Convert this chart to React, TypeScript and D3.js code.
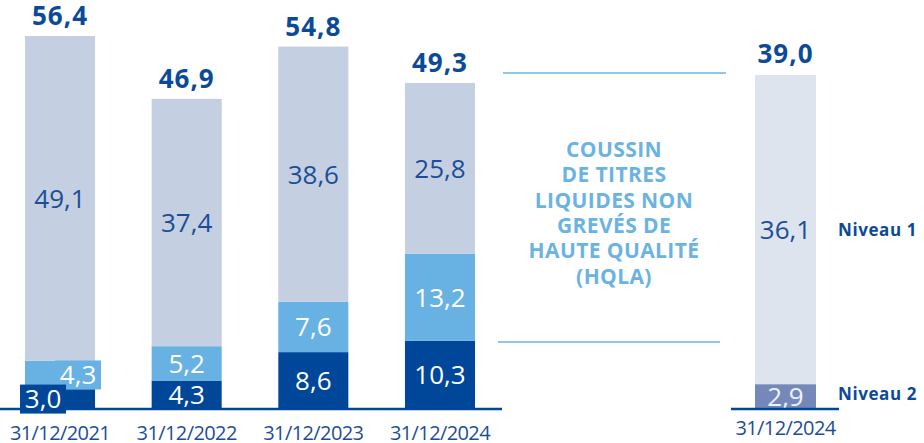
import React from 'react';
import * as d3 from 'd3';

// ---- data ----
const categories = ['31/12/2021', '31/12/2022', '31/12/2023', '31/12/2024'];
const seriesKeys = ['bottom', 'middle', 'top'];
const bottomValues = [3.0, 4.3, 8.6, 10.3];
const middleValues = [4.3, 5.2, 7.6, 13.2];
const topValues = [49.1, 37.4, 38.6, 25.8];
const totalValues = [56.4, 46.9, 54.8, 49.3];

const hqlaCategory = ['31/12/2024'];
const hqlaLevel1 = [36.1];
const hqlaLevel2 = [2.9];
const hqlaTotal = [39.0];
const hqlaLevelLabels = ['Niveau 1', 'Niveau 2'];
const hqlaTitleLines = ['COUSSIN', 'DE TITRES', 'LIQUIDES NON', 'GREVÉS DE', 'HAUTE QUALITÉ', '(HQLA)'];

// ---- styles ----
const W = 924;
const H = 443;
const FONT = '"Open Sans", "Noto Sans", sans-serif';
const C_DARK = '#00479A';
const C_MID = '#67B2E3';
const C_TOP = '#C4CFE1';
const C_R_TOP = '#DDE4EE';
const C_R_BOT = '#7489BA';
const C_TEXT = '#0B4A99';
const C_SEG_TEXT = '#1C4E98';
const C_HQLA = '#6AB3E3';

const fr = d3.formatLocale({ decimal: ',', thousands: ' ', grouping: [3], currency: ['', ' €'] });
const fmt = fr.format('.1f');

export default function App() {
  const baseY = 409;
  const x = d3.scaleBand<string>().domain(categories).range([25, 475]).paddingInner(0.447).paddingOuter(0);
  const y = d3.scaleLinear().domain([0, 56.4]).range([baseY, 36]);

  const xr = d3.scaleBand<string>().domain(hqlaCategory).range([755, 816]).padding(0);
  const yr = d3.scaleLinear().domain([0, 39.0]).range([baseY, 75]);

  const rows = categories.map((c, i) => ({
    cat: c,
    bottom: bottomValues[i],
    middle: middleValues[i],
    top: topValues[i],
  }));
  const stacked = d3.stack<any>().keys(seriesKeys)(rows);
  const fills: Record<string, string> = { bottom: C_DARK, middle: C_MID, top: C_TOP };
  const textFill: Record<string, string> = { bottom: '#FFFFFF', middle: '#FFFFFF', top: C_SEG_TEXT };

  const segFont = 26;
  const capOff = segFont * 0.357;

  // bars whose bottom segment is too thin get "badge" labels for the two lower segments
  const badgeBar = categories.map((c, i) => y(0) - y(bottomValues[i]) < 24);
  const badgeShift: Record<string, number> = { bottom: -17, middle: 18 };
  const badgeOrder = ['middle', 'bottom'];

  const rStack = d3.stack<any>().keys(['l2', 'l1'])([{ cat: hqlaCategory[0], l2: hqlaLevel2[0], l1: hqlaLevel1[0] }]);
  const rFill: Record<string, string> = { l2: C_R_BOT, l1: C_R_TOP };
  const rText: Record<string, string> = { l2: '#EEF2F8', l1: C_SEG_TEXT };
  const rLevelLabel: Record<string, string> = { l2: hqlaLevelLabels[1], l1: hqlaLevelLabels[0] };
  const rLevelDy: Record<string, number> = { l2: 3, l1: 6 };

  return (
    <svg width={W} height={H} style={{ position: 'absolute', left: 0, top: 0, background: '#fff' }} fontFamily={FONT}>
      {/* left stacked bars */}
      {stacked.map((layer) => (
        <g key={layer.key}>
          {layer.map((d: any, i: number) => (
            <rect
              key={i}
              x={x(d.data.cat)}
              y={y(d[1])}
              width={x.bandwidth()}
              height={y(d[0]) - y(d[1])}
              fill={fills[layer.key]}
            />
          ))}
        </g>
      ))}

      {/* axis baseline */}
      <line x1={0} x2={502} y1={baseY} y2={baseY} stroke={C_DARK} strokeWidth={2.4} />

      {/* segment labels (regular) */}
      {stacked.map((layer) => (
        <g key={'lab-' + layer.key}>
          {layer.map((d: any, i: number) => {
            if (badgeBar[i] && layer.key !== 'top') return null;
            const cx = (x(d.data.cat) as number) + x.bandwidth() / 2;
            const cy = (y(d[0]) + y(d[1])) / 2;
            return (
              <text key={i} x={cx} y={cy + capOff} textAnchor="middle" fontSize={segFont} fill={textFill[layer.key]}>
                {fmt(d[1] - d[0])}
              </text>
            );
          })}
        </g>
      ))}

      {/* badge labels */}
      {badgeOrder.map((key) => {
        const layer = stacked.find((l) => l.key === key)!;
        return (
          <g key={'badge-' + key}>
            {layer.map((d: any, i: number) => {
              if (!badgeBar[i]) return null;
              const cx = (x(d.data.cat) as number) + x.bandwidth() / 2 + badgeShift[key];
              const cy = (y(d[0]) + y(d[1])) / 2;
              return (
                <g key={i}>
                  <rect x={cx - 23} y={cy - 14.5} width={46} height={29} fill={fills[key]} />
                  <text x={cx} y={cy + capOff} textAnchor="middle" fontSize={segFont} fill="#fff">
                    {fmt(d[1] - d[0])}
                  </text>
                </g>
              );
            })}
          </g>
        );
      })}

      {/* totals */}
      {categories.map((c, i) => (
        <text
          key={'t' + i}
          x={(x(c) as number) + x.bandwidth() / 2}
          y={y(totalValues[i]) - 11}
          textAnchor="middle"
          fontSize={26}
          fontWeight={700}
          letterSpacing={1}
          fill={C_TEXT}
        >
          {fmt(totalValues[i])}
        </text>
      ))}

      {/* category labels */}
      {categories.map((c) => (
        <text
          key={'c' + c}
          x={(x(c) as number) + x.bandwidth() / 2}
          y={440}
          textAnchor="middle"
          fontSize={20}
          letterSpacing={-0.6}
          fill={C_SEG_TEXT}
        >
          {c}
        </text>
      ))}

      {/* HQLA divider lines */}
      <line x1={503} x2={726} y1={73} y2={73} stroke={C_HQLA} strokeWidth={1.5} />
      <line x1={498} x2={720} y1={342} y2={342} stroke={C_HQLA} strokeWidth={1.5} />

      {/* HQLA title */}
      {hqlaTitleLines.map((t, i) => (
        <text
          key={'h' + i}
          x={614}
          y={157 + i * 25.3}
          textAnchor="middle"
          fontSize={21}
          fontWeight={700}
          letterSpacing={0.4}
          fill={C_HQLA}
        >
          {t}
        </text>
      ))}

      {/* right HQLA bar */}
      {rStack.map((layer) => {
        const d: any = layer[0];
        const bx = xr(d.data.cat) as number;
        const cy = (yr(d[0]) + yr(d[1])) / 2;
        return (
          <g key={'r' + layer.key}>
            <rect x={bx} y={yr(d[1])} width={xr.bandwidth()} height={yr(d[0]) - yr(d[1])} fill={rFill[layer.key]} />
            <text
              x={bx + xr.bandwidth() / 2}
              y={cy + capOff}
              textAnchor="middle"
              fontSize={segFont}
              fill={rText[layer.key]}
            >
              {fmt(d[1] - d[0])}
            </text>
            <text
              x={838}
              y={cy + rLevelDy[layer.key]}
              fontSize={17}
              fontWeight={700}
              letterSpacing={0.6}
              fill={C_TEXT}
            >
              {rLevelLabel[layer.key]}
            </text>
          </g>
        );
      })}
      <line x1={731} x2={839} y1={baseY} y2={baseY} stroke={C_DARK} strokeWidth={2.4} />
      <text
        x={(xr(hqlaCategory[0]) as number) + xr.bandwidth() / 2}
        y={yr(hqlaTotal[0]) - 12}
        textAnchor="middle"
        fontSize={26}
        fontWeight={700}
        letterSpacing={1}
        fill={C_TEXT}
      >
        {fmt(hqlaTotal[0])}
      </text>
      <text
        x={(xr(hqlaCategory[0]) as number) + xr.bandwidth() / 2}
        y={435}
        textAnchor="middle"
        fontSize={20}
        letterSpacing={-0.6}
        fill={C_SEG_TEXT}
      >
        {hqlaCategory[0]}
      </text>
    </svg>
  );
}
